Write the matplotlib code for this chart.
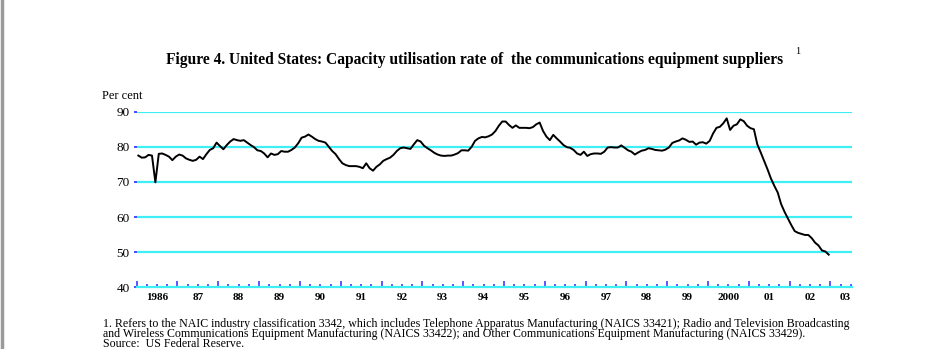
import numpy as np
import matplotlib.pyplot as plt
from matplotlib.lines import Line2D

# monthly capacity utilisation, Jan 1986 - Dec 2002 (per cent)
util = [
    77.5, 76.9, 77.0, 77.7, 77.5, 69.9, 78.0, 78.1, 77.7, 77.2, 76.2, 77.2,  # 1986
    77.8, 77.5, 76.7, 76.3, 76.0, 76.3, 77.2, 76.5, 77.9, 79.1, 79.6, 81.2,  # 1987
    80.2, 79.3, 80.5, 81.5, 82.2, 81.9, 81.7, 81.9, 81.2, 80.5, 79.9, 79.0,  # 1988
    78.8, 78.1, 77.0, 78.1, 77.7, 77.9, 78.8, 78.6, 78.6, 79.1, 79.8, 81.0,  # 1989
    82.6, 82.9, 83.5, 82.9, 82.2, 81.7, 81.5, 81.2, 80.0, 78.8, 77.9, 76.5,  # 1990
    75.3, 74.8, 74.5, 74.5, 74.5, 74.3, 73.9, 75.3, 73.9, 73.2, 74.3, 75.0,  # 1991
    76.0, 76.5, 76.9, 77.7, 78.8, 79.6, 79.8, 79.6, 79.4, 80.7, 81.9, 81.5,  # 1992
    80.3, 79.6, 79.0, 78.3, 77.8, 77.5, 77.4, 77.5, 77.5, 77.8, 78.2, 79.0,  # 1993
    79.0, 78.9, 80.0, 81.7, 82.4, 82.8, 82.7, 83.0, 83.5, 84.5, 86.0, 87.2,  # 1994
    87.2, 86.2, 85.4, 86.1, 85.4, 85.4, 85.4, 85.3, 85.6, 86.4, 86.9, 84.5,  # 1995
    82.9, 81.9, 83.4, 82.4, 81.5, 80.5, 79.9, 79.7, 79.1, 78.1, 77.7, 78.6,  # 1996
    77.4, 77.9, 78.1, 78.1, 78.0, 78.6, 79.8, 79.9, 79.8, 79.8, 80.4, 79.7,  # 1997
    79.0, 78.6, 77.8, 78.4, 78.9, 79.1, 79.6, 79.4, 79.1, 79.0, 78.9, 79.2,  # 1998
    79.8, 81.1, 81.5, 81.8, 82.4, 82.0, 81.4, 81.5, 80.6, 81.2, 81.3, 80.9,  # 1999
    81.7, 83.8, 85.4, 85.7, 86.7, 88.1, 84.8, 86.0, 86.4, 87.8, 87.3, 86.0,  # 2000
    85.3, 85.0, 80.7, 78.4, 76.0, 73.6, 71.0, 68.9, 67.0, 63.7, 61.5, 59.6,  # 2001
    57.7, 56.0, 55.5, 55.2, 54.9, 54.9, 54.0, 52.7, 51.9, 50.5, 50.2, 49.3,  # 2002
]
years = list(range(1986, 2004))
year_labels = ['1986'] + ["%02d" % (y % 100) for y in years[1:]]
year_labels[years.index(2000)] = '2000'

x = 1986 + (np.arange(len(util)) + 0.5) / 12

serif = ['Liberation Serif', 'DejaVu Serif']
grid_c = '#3ef0f6'
tick_c = '#2a2aff'

fig = plt.figure(figsize=(9.4, 3.49), dpi=100)
ax = fig.add_axes([0.1454, 0.1768, 0.7606, 0.5032])

for v in [50, 60, 70, 80, 90]:
    ax.axhline(v, color=grid_c, lw=1.6, zorder=1)
ax.plot(x, util, color='black', lw=1.4, zorder=3)

ax.set_xlim(1986, 2003.52)
ax.set_ylim(40, 90)
for s in ['top', 'right', 'left']:
    ax.spines[s].set_visible(False)
ax.spines['bottom'].set_color(grid_c)
ax.spines['bottom'].set_linewidth(1.6)

ax.set_yticks([40, 50, 60, 70, 80, 90])
ax.set_yticklabels(['40', '50', '60', '70', '80', '90'], fontfamily=serif, fontsize=9.5)
ax.tick_params(axis='y', length=2, width=1.2, color=tick_c, pad=3)

ax.set_xticks(years)
ax.set_xticks(np.arange(1986, 2003.6, 0.25), minor=True)
ax.tick_params(axis='x', which='major', direction='in', length=4.5, width=1.1, color=tick_c, labelbottom=False)
ax.tick_params(axis='x', which='minor', direction='in', length=2.5, width=1.1, color=tick_c)

# year labels centred in each year
for y, lab in zip(years, year_labels):
    xpos = y + 0.5 if y < 2003 else y + 0.35
    ax.text(xpos, -0.035, lab, transform=ax.get_xaxis_transform(), ha='center', va='top',
            fontfamily=serif, fontweight='bold', fontsize=8)

fig.text(0.1085, 1 - 96 / 349, 'Per cent', fontfamily=serif, fontsize=9, ha='left', va='center')

fig.text(0.5045, 1 - 60 / 349,
         'Figure 4. United States: Capacity utilisation rate of  the communications equipment suppliers',
         fontfamily=serif, fontweight='bold', fontsize=11.2, ha='center', va='center')
fig.text(0.849, 1 - 51 / 349, '1', fontfamily=serif, fontsize=7.5, ha='center', va='center')

notes = [
    '1. Refers to the NAIC industry classification 3342, which includes Telephone Apparatus Manufacturing (NAICS 33421); Radio and Television Broadcasting',
    'and Wireless Communications Equipment Manufacturing (NAICS 33422); and Other Communications Equipment Manufacturing (NAICS 33429).',
    'Source:  US Federal Reserve.',
]
fig.text(0.1095, 1 - 318 / 349, '\n'.join(notes), fontfamily=serif, fontsize=8.55,
         ha='left', va='top', linespacing=0.78)

fig.add_artist(Line2D([0.002, 0.002], [0, 1], color='#9a9a9a', lw=2.5, transform=fig.transFigure))

fig.savefig('out.png', dpi=100)
